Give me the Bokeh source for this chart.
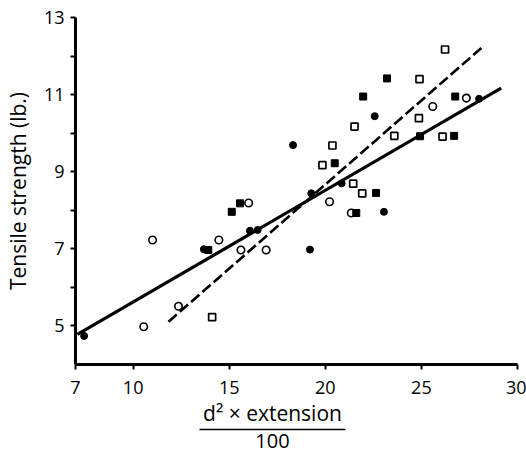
from bokeh.plotting import figure
from bokeh.models import FixedTicker, LinearAxis, Range1d
from bokeh.embed import file_html
from bokeh.resources import INLINE

# ---- data ----
filled_circle_x = [7.45, 13.68, 16.08, 16.48, 18.32, 19.27, 19.20, 20.85, 22.57, 23.05, 28.00]
filled_circle_y = [4.74, 6.99, 7.47, 7.49, 9.69, 8.44, 6.98, 8.70, 10.44, 7.96, 10.89]

open_circle_x = [11.01, 14.46, 12.36, 10.55, 16.01, 15.61, 16.92, 20.22, 21.35, 25.59, 27.34]
open_circle_y = [7.23, 7.23, 5.51, 4.98, 8.19, 6.97, 6.97, 8.22, 7.93, 10.69, 10.91]

filled_square_x = [13.91, 15.13, 15.56, 20.49, 22.64, 21.61, 21.97, 23.21, 24.93, 26.76, 26.70]
filled_square_y = [6.97, 7.96, 8.18, 9.22, 8.45, 7.93, 10.95, 11.42, 9.92, 10.95, 9.93]

open_square_x = [14.11, 19.85, 20.37, 21.52, 21.45, 21.92, 23.59, 24.87, 24.90, 26.23, 26.10]
open_square_y = [5.23, 9.17, 9.68, 10.17, 8.69, 8.44, 9.93, 10.39, 11.40, 12.17, 9.91]

solid_line_x = [7.10, 29.15]
solid_line_y = [4.78, 11.17]
dashed_line_x = [11.84, 28.12]
dashed_line_y = [5.11, 12.21]

x_ticks = [7, 10, 15, 20, 25, 30]
y_ticks = [5, 6, 7, 8, 9, 10, 11, 12, 13]
y_tick_labels = {5: "5", 6: "", 7: "7", 8: "", 9: "9", 10: "", 11: "11", 12: "", 13: "13"}

y_title = "Tensile strength (lb.)"
x_title_top = "d² × extension"
x_title_bottom = "100"
x_title_center = 17.25          # where the fraction is centred (x units)
x_title_bar = (13.45, 21.05)    # extent of the fraction bar (x units)

FONT = "Open Sans"

p = figure(width=526, height=452,
           x_range=Range1d(7, 30), y_range=Range1d(4, 13),
           output_backend="svg", toolbar_location=None,
           min_border_left=75, min_border_right=9,
           min_border_top=17, min_border_bottom=88)
p.outline_line_color = None
p.grid.visible = False
p.background_fill_color = "white"
p.border_fill_color = "white"

for ax in (p.xaxis[0], p.yaxis[0]):
    ax.axis_line_width = 3
    ax.axis_line_color = "black"
    ax.major_tick_line_width = 2
    ax.major_tick_line_color = "black"
    ax.major_tick_in = 0
    ax.major_tick_out = 5
    ax.minor_tick_line_color = None
    ax.major_label_text_font = FONT
    ax.major_label_text_font_size = "18px"
    ax.major_label_text_color = "black"

p.yaxis.ticker = FixedTicker(ticks=y_ticks)
p.yaxis.major_label_overrides = y_tick_labels
p.yaxis.major_label_standoff = 6
p.yaxis.axis_label = y_title
p.yaxis.axis_label_text_font = FONT
p.yaxis.axis_label_text_font_size = "21px"
p.yaxis.axis_label_text_font_style = "normal"
p.yaxis.axis_label_text_color = "black"
p.yaxis.axis_label_standoff = 9

p.xaxis.ticker = FixedTicker(ticks=x_ticks)
p.xaxis.major_label_standoff = 11

# x title drawn as a fraction: numerator, bar, denominator
num_axis = LinearAxis(ticker=FixedTicker(ticks=[x_title_center]),
                      major_label_overrides={x_title_center: x_title_top},
                      axis_line_color=None, major_tick_line_color=None,
                      major_tick_in=0, major_tick_out=0,
                      minor_tick_line_color=None, major_label_standoff=2,
                      major_label_text_font=FONT,
                      major_label_text_font_size="21px",
                      major_label_text_color="black")
den_axis = LinearAxis(ticker=FixedTicker(ticks=[x_title_center]),
                      major_label_overrides={x_title_center: x_title_bottom},
                      bounds=x_title_bar,
                      axis_line_color="black", axis_line_width=1.6,
                      major_tick_line_color=None,
                      major_tick_in=0, major_tick_out=0,
                      minor_tick_line_color=None, major_label_standoff=4,
                      major_label_text_font=FONT,
                      major_label_text_font_size="20px",
                      major_label_text_color="black")
p.add_layout(num_axis, "below")
p.add_layout(den_axis, "below")

# regression lines
p.line(solid_line_x, solid_line_y, line_color="black", line_width=3.2)
p.line(dashed_line_x, dashed_line_y, line_color="black", line_width=2.6,
       line_dash="11 4")

# points
p.scatter(filled_circle_x, filled_circle_y, marker="circle", size=7,
          fill_color="black", line_color="black", line_width=1)
p.scatter(open_circle_x, open_circle_y, marker="circle", size=7.5,
          fill_color="white", line_color="black", line_width=1.6)
p.scatter(filled_square_x, filled_square_y, marker="square", size=7,
          fill_color="black", line_color="black", line_width=1)
p.scatter(open_square_x, open_square_y, marker="square", size=7,
          fill_color="white", line_color="black", line_width=1.7)

open("out.html", "w").write(file_html(p, INLINE))
